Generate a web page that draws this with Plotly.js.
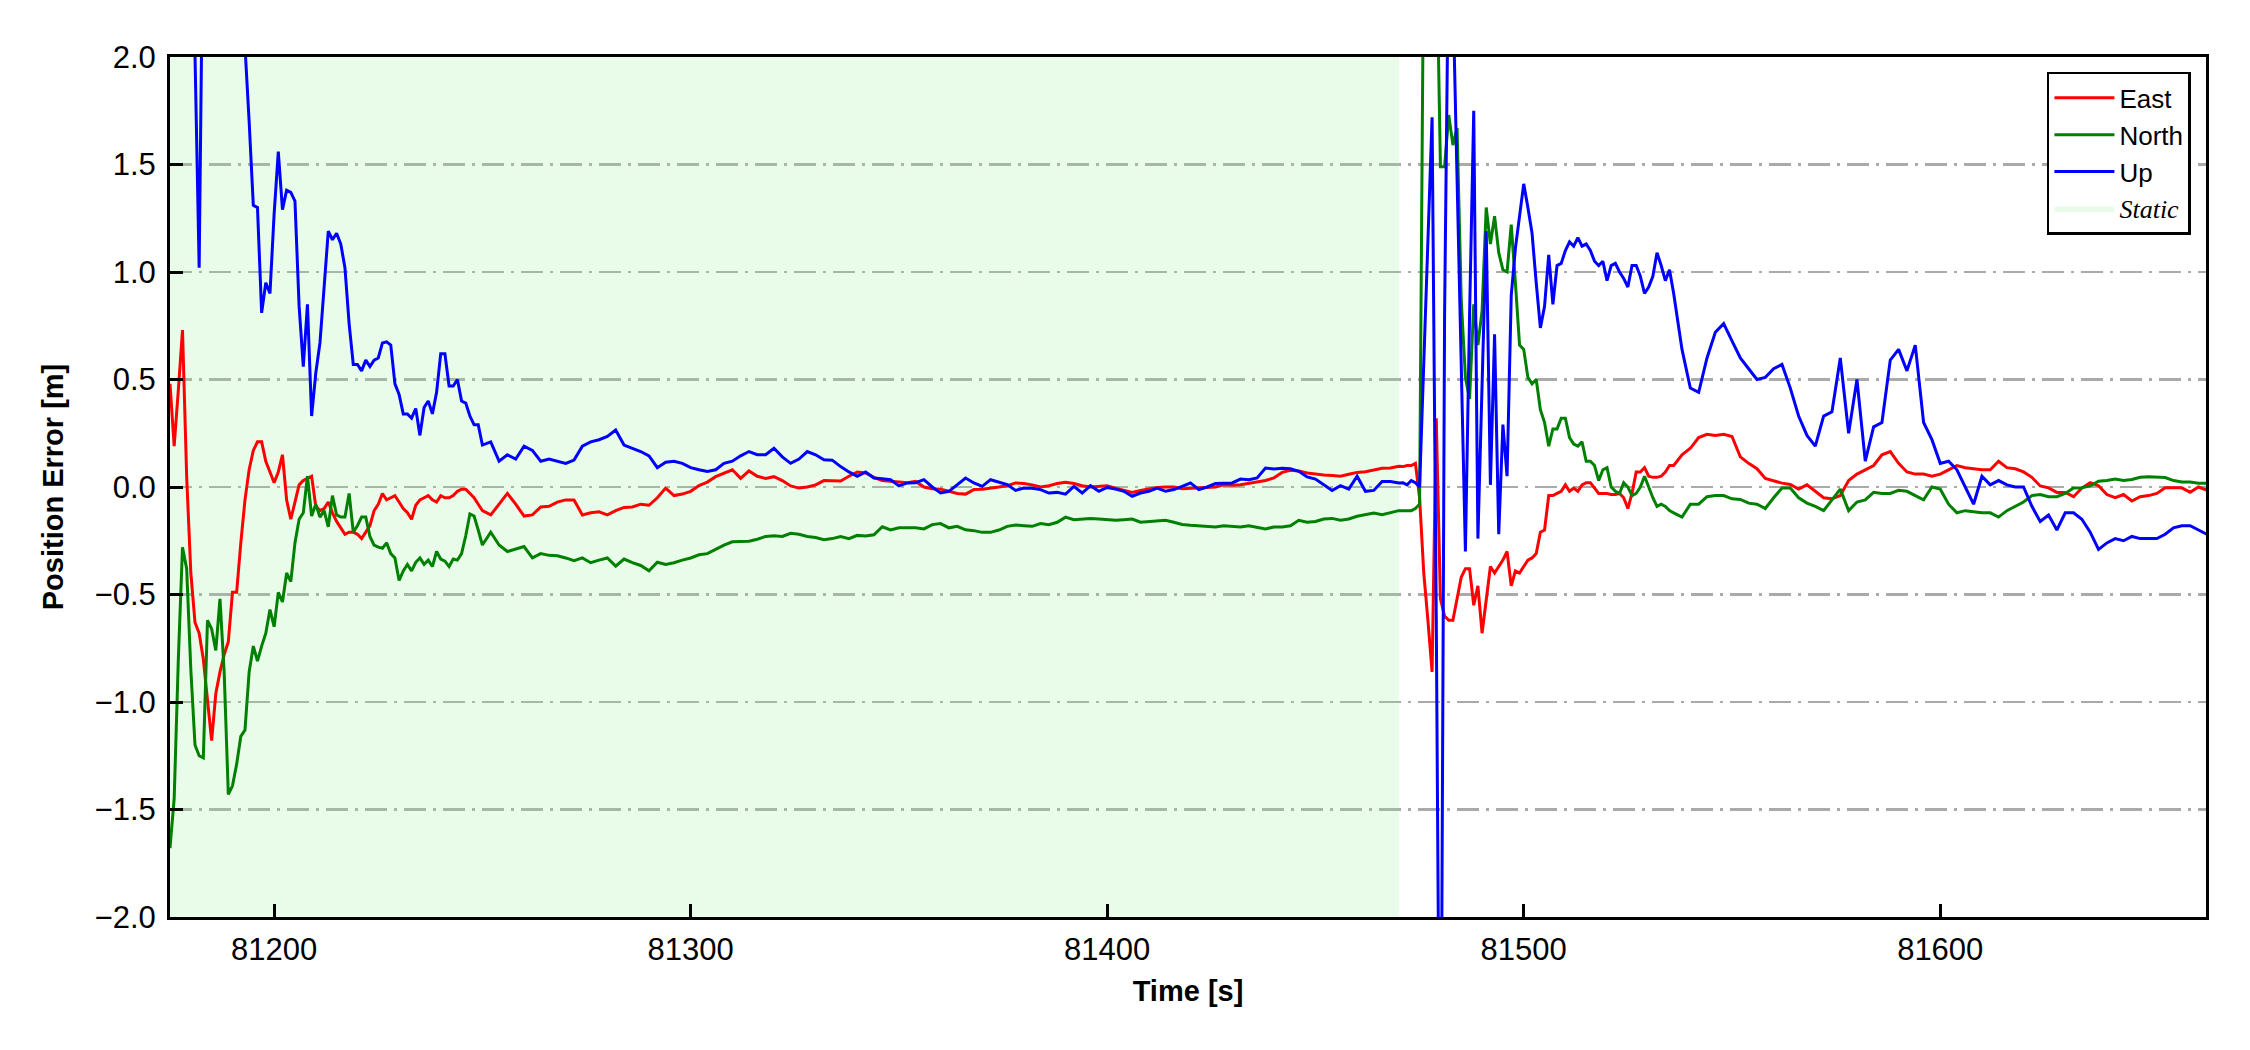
<!DOCTYPE html>
<html>
<head>
<meta charset="utf-8">
<script src="https://cdn.plot.ly/plotly-3.0.1.min.js"></script>
<style>html,body{margin:0;padding:0;background:#fff;}#chart{width:2250px;height:1050px;}</style>
</head>
<body>
<div id="chart"></div>
<script>
// Sampling grid: [start time, step (s), count]
const segments = [[81175, 1, 76], [81252, 2, 110], [81471, 1, 65], [81536, 2, 65]];

const eastError = [
  0.48, 0.19, 0.45, 0.73, 0.05, -0.40, -0.63, -0.68, -0.80, -1.0,
  -1.18, -0.96, -0.86, -0.78, -0.72, -0.49, -0.49, -0.26, -0.06, 0.08,
  0.17, 0.21, 0.21, 0.12, 0.07, 0.02, 0.07, 0.15, -0.06, -0.15,
  -0.07, 0.01, 0.03, 0.04, 0.05, -0.09, -0.11, -0.10, -0.07, -0.12,
  -0.16, -0.19, -0.22, -0.21, -0.21, -0.22, -0.24, -0.21, -0.18, -0.11,
  -0.08, -0.03, -0.06, -0.05, -0.04, -0.07, -0.10, -0.12, -0.15, -0.085,
  -0.06, -0.05, -0.04, -0.06, -0.07, -0.04, -0.05, -0.05, -0.04, -0.02,
  -0.01, -0.01, -0.03, -0.05, -0.08, -0.11,
  -0.13, -0.08, -0.03, -0.08, -0.135, -0.13, -0.093, -0.09, -0.07, -0.06,
  -0.06, -0.13, -0.12, -0.115, -0.13, -0.11, -0.095, -0.093, -0.08, -0.085,
  -0.05, -0.005, -0.04, -0.033, -0.02, 0.007, 0.023, 0.048, 0.065, 0.08,
  0.04, 0.075, 0.05, 0.04, 0.048, 0.03, 0.005, -0.005, 0.0, 0.01,
  0.03, 0.03, 0.028, 0.05, 0.07, 0.065, 0.045, 0.03, 0.026, 0.025,
  0.02, 0.026, 0.0,
  -0.008, -0.01, -0.02, -0.03, -0.033, -0.012, -0.01, -0.006, 0.0, 0.006,
  0.019, 0.016, 0.01, 0.0, 0.006, 0.016, 0.022, 0.016, 0.006, 0.0,
  0.003, 0.006, -0.005, -0.016, -0.025, -0.016, -0.01, -0.002, 0.0, 0.0,
  -0.008, -0.006, -0.005, -0.002, 0.0, 0.01, 0.008, 0.01, 0.016, 0.025,
  0.03, 0.042, 0.068, 0.078, 0.075, 0.065, 0.059, 0.056, 0.053, 0.05,
  0.059, 0.068, 0.071, 0.078, 0.087, 0.088, 0.096,
  0.095, 0.10, 0.10, 0.11, -0.05, -0.40, -0.62, -0.86, 0.32, -0.52,
  -0.60, -0.62, -0.62, -0.51, -0.42, -0.38, -0.38, -0.55, -0.46, -0.68,
  -0.51, -0.37, -0.40, -0.37, -0.34, -0.30, -0.46, -0.39, -0.40, -0.37,
  -0.34, -0.33, -0.31, -0.21, -0.20, -0.04, -0.04, -0.03, -0.02, 0.01,
  -0.02, -0.005, -0.02, 0.01, 0.02, 0.02, -0.005, -0.03, -0.03, -0.03,
  -0.035, -0.035, -0.03, -0.05, -0.10, -0.03, 0.07, 0.07, 0.09, 0.05,
  0.045, 0.045, 0.05, 0.07, 0.10,
  0.10, 0.15, 0.18, 0.23, 0.245, 0.24, 0.245, 0.235, 0.14, 0.11,
  0.085, 0.04, 0.03, 0.018, 0.012, -0.01, 0.01, -0.02, -0.05, -0.055,
  -0.04, 0.03, 0.06, 0.08, 0.10, 0.15, 0.165, 0.11, 0.07, 0.06,
  0.06, 0.05, 0.06, 0.08, 0.10, 0.09, 0.085, 0.08, 0.08, 0.12,
  0.09, 0.085, 0.07, 0.045, 0.005, -0.004, -0.025, -0.025, -0.045, -0.005,
  0.02, 0.006, -0.035, -0.05, -0.035, -0.065, -0.045, -0.04, -0.03, -0.004,
  -0.004, -0.004, -0.025, 0.0, -0.015
];

const northError = [
  -1.68, -1.45, -0.80, -0.28, -0.38, -0.85, -1.20, -1.25, -1.26, -0.62,
  -0.66, -0.76, -0.52, -0.86, -1.43, -1.39, -1.29, -1.16, -1.13, -0.86,
  -0.74, -0.81, -0.74, -0.68, -0.57, -0.65, -0.49, -0.535, -0.40, -0.44,
  -0.26, -0.15, -0.12, 0.05, -0.135, -0.08, -0.14, -0.11, -0.185, -0.04,
  -0.13, -0.14, -0.14, -0.03, -0.21, -0.18, -0.14, -0.14, -0.23, -0.27,
  -0.28, -0.285, -0.26, -0.31, -0.33, -0.435, -0.39, -0.36, -0.39, -0.35,
  -0.33, -0.36, -0.34, -0.37, -0.30, -0.335, -0.345, -0.37, -0.335, -0.34,
  -0.31, -0.227, -0.125, -0.135, -0.20, -0.27,
  -0.21, -0.27, -0.30, -0.29, -0.277, -0.33, -0.31, -0.318, -0.32, -0.33,
  -0.343, -0.33, -0.352, -0.34, -0.33, -0.368, -0.335, -0.352, -0.365, -0.39,
  -0.35, -0.36, -0.352, -0.34, -0.33, -0.315, -0.31, -0.29, -0.27, -0.255,
  -0.252, -0.252, -0.243, -0.23, -0.227, -0.23, -0.215, -0.22, -0.23, -0.235,
  -0.245, -0.24, -0.23, -0.24, -0.225, -0.228, -0.222, -0.185, -0.2, -0.19,
  -0.19, -0.19, -0.195,
  -0.175, -0.17, -0.19, -0.183, -0.199, -0.203, -0.211, -0.211, -0.2, -0.183,
  -0.177, -0.18, -0.183, -0.17, -0.175, -0.164, -0.14, -0.152, -0.149, -0.146,
  -0.149, -0.152, -0.155, -0.152, -0.149, -0.164, -0.16, -0.158, -0.155, -0.164,
  -0.174, -0.178, -0.18, -0.183, -0.186, -0.18, -0.183, -0.186, -0.18, -0.188,
  -0.195, -0.186, -0.186, -0.18, -0.155, -0.164, -0.16, -0.149, -0.146, -0.155,
  -0.149, -0.136, -0.129, -0.121, -0.129, -0.121, -0.11,
  -0.11, -0.11, -0.11, -0.10, -0.08, 2.6, 3.0, 3.0, 2.6, 1.49,
  1.49, 1.73, 1.59, 1.67, 0.87, 0.51, 0.41, 0.85, 0.66, 0.82,
  1.30, 1.13, 1.26, 1.09, 1.01, 1.0, 1.22, 0.95, 0.66, 0.64,
  0.51, 0.48, 0.50, 0.36, 0.30, 0.19, 0.27, 0.27, 0.32, 0.32,
  0.23, 0.20, 0.19, 0.21, 0.12, 0.12, 0.10, 0.03, 0.08, 0.09,
  0.0, -0.02, -0.03, 0.02, 0.0, -0.04, -0.03, 0.0, 0.05, 0.0,
  -0.05, -0.09, -0.08, -0.09, -0.11,
  -0.12, -0.14, -0.08, -0.08, -0.045, -0.04, -0.04, -0.055, -0.058, -0.075,
  -0.08, -0.10, -0.05, -0.005, -0.005, -0.05, -0.075, -0.09, -0.11, -0.06,
  -0.01, -0.11, -0.07, -0.06, -0.025, -0.03, -0.03, -0.015, -0.02, -0.04,
  -0.06, 0.0, -0.01, -0.08, -0.12, -0.11, -0.115, -0.12, -0.12, -0.14,
  -0.11, -0.09, -0.07, -0.04, -0.035, -0.045, -0.045, -0.03, -0.005, -0.003,
  0.005, 0.027, 0.03, 0.037, 0.03, 0.035, 0.045, 0.048, 0.045, 0.044,
  0.03, 0.023, 0.023, 0.017, 0.017
];

const upError = [
  3.5, 3.6, 3.4, 3.2, 3.0, 3.0, 2.0, 1.02, 2.8, 3.5,
  3.8, 3.8, 3.6, 3.3, 3.0, 2.8, 2.6, 2.5, 2.05, 1.70,
  1.31, 1.30, 0.81, 0.95, 0.90, 1.27, 1.56, 1.29, 1.38, 1.37,
  1.33, 0.84, 0.56, 0.85, 0.33, 0.53, 0.67, 0.93, 1.19, 1.15,
  1.18, 1.13, 1.02, 0.76, 0.57, 0.57, 0.54, 0.59, 0.56, 0.59,
  0.60, 0.67, 0.675, 0.66, 0.48, 0.43, 0.34, 0.34, 0.32, 0.365,
  0.24, 0.37, 0.40, 0.34, 0.44, 0.62, 0.62, 0.47, 0.47, 0.50,
  0.40, 0.39, 0.33, 0.29, 0.29, 0.195,
  0.21, 0.12, 0.15, 0.13, 0.19, 0.17, 0.12, 0.13, 0.12, 0.11,
  0.125, 0.19, 0.21, 0.22, 0.235, 0.265, 0.195, 0.18, 0.165, 0.145,
  0.09, 0.115, 0.12, 0.11, 0.09, 0.08, 0.072, 0.08, 0.11, 0.12,
  0.145, 0.165, 0.15, 0.15, 0.18, 0.14, 0.11, 0.13, 0.165, 0.15,
  0.127, 0.125, 0.095, 0.07, 0.05, 0.07, 0.042, 0.038, 0.034, 0.005,
  0.019, 0.02, 0.034,
  0.0, -0.028, -0.02, 0.011, 0.042, 0.019, 0.003, 0.034, 0.022, 0.011,
  -0.016, -0.005, -0.006, -0.012, -0.028, -0.025, -0.033, 0.003, -0.028, 0.006,
  -0.02, -0.002, -0.01, -0.02, -0.043, -0.028, -0.02, -0.005, -0.02, -0.012,
  0.003, 0.019, -0.012, 0.0, 0.016, 0.016, 0.019, 0.037, 0.034, 0.042,
  0.088, 0.084, 0.087, 0.085, 0.073, 0.047, 0.037, 0.011, -0.016, 0.006,
  -0.01, 0.05, -0.02, -0.016, 0.026, 0.026, 0.019,
  0.02, 0.01, 0.03, 0.02, 0.0, 0.6, 1.2, 1.72, -0.6, -3.5,
  0.8, 2.6, 2.3, 1.4, 0.5, -0.30, 0.8, 1.75, -0.24, 0.5,
  1.19, 0.01, 0.71, -0.22, 0.29, 0.05, 0.89, 1.11, 1.25, 1.41,
  1.3, 1.18, 0.95, 0.74, 0.84, 1.08, 0.85, 1.03, 1.04, 1.1,
  1.14, 1.12, 1.16, 1.12, 1.13, 1.10, 1.05, 1.03, 1.05, 0.96,
  1.03, 1.04, 1.0, 0.97, 0.93, 1.03, 1.03, 0.98, 0.9, 0.93,
  0.98, 1.09, 1.03, 0.96, 1.01,
  0.9, 0.64, 0.46, 0.44, 0.6, 0.72, 0.76, 0.68, 0.6, 0.55,
  0.5, 0.51, 0.55, 0.57, 0.46, 0.33, 0.24, 0.19, 0.33, 0.35,
  0.6, 0.25, 0.50, 0.12, 0.28, 0.30, 0.59, 0.64, 0.54, 0.66,
  0.30, 0.22, 0.11, 0.12, 0.08, 0.0, -0.08, 0.05, 0.01, 0.03,
  0.01, 0.0, 0.0, -0.09, -0.16, -0.13, -0.20, -0.12, -0.12, -0.15,
  -0.21, -0.29, -0.26, -0.24, -0.25, -0.23, -0.24, -0.24, -0.24, -0.22,
  -0.19, -0.18, -0.18, -0.20, -0.22
];

const staticPeriod = [81175, 81470.1];
const xRange = [81175, 81663.8];
const yRange = [-2, 2];
const xTickVals = [81200, 81300, 81400, 81500, 81600];
const yTickVals = [-2, -1.5, -1, -0.5, 0, 0.5, 1, 1.5, 2];
const seriesNames = ['East', 'North', 'Up'];
const seriesColors = ['#ff0000', '#008000', '#0000ff'];

const time = [];
segments.forEach(function (s) {
  for (let k = 0; k < s[2]; k++) time.push(s[0] + k * s[1]);
});

const FONT = 'Liberation Sans, Arial, Helvetica, sans-serif';

const traces = [];
traces.push({
  x: [staticPeriod[0], staticPeriod[1], staticPeriod[1], staticPeriod[0]],
  y: [yRange[0], yRange[0], yRange[1], yRange[1]],
  type: 'scatter', mode: 'lines', fill: 'toself',
  fillcolor: 'rgba(144,238,144,0.2)', line: {width: 0, color: 'rgba(144,238,144,0.2)'},
  name: '<span style="font-family:Liberation Serif,Times New Roman,serif"><i>Static</i></span>',
  legendrank: 4, hoverinfo: 'skip'
});
[eastError, northError, upError].forEach(function (vals, k) {
  traces.push({
    x: time, y: vals, type: 'scatter', mode: 'lines',
    line: {color: seriesColors[k], width: 3},
    name: seriesNames[k], legendrank: k + 1
  });
});

const layout = {
  width: 2250, height: 1050,
  margin: {l: 170, r: 44, t: 57, b: 133, pad: 0},
  paper_bgcolor: '#ffffff', plot_bgcolor: '#ffffff',
  font: {family: FONT, color: '#000000'},
  showlegend: true,
  legend: {
    x: 0.9926, y: 0.9826, xanchor: 'right', yanchor: 'top',
    bgcolor: '#ffffff', bordercolor: '#000000', borderwidth: 2.5,
    font: {family: FONT, size: 26, color: '#000000'},
    tracegroupgap: 0, itemwidth: 60
  },
  xaxis: {
    range: xRange, tickvals: xTickVals, tickformat: 'd',
    showline: true, linecolor: '#000000', linewidth: 3, mirror: true,
    ticks: 'inside', ticklen: 13, tickwidth: 3, tickcolor: '#000000',
    tickfont: {family: FONT, size: 31}, ticklabelstandoff: 3,
    showgrid: false, zeroline: false,
    title: {text: 'Time [s]', font: {family: FONT, size: 29, weight: 'bold'}, standoff: 15}
  },
  yaxis: {
    range: yRange, tickvals: yTickVals, tickformat: '.1f',
    showline: true, linecolor: '#000000', linewidth: 3, mirror: true,
    ticks: 'inside', ticklen: 13, tickwidth: 3, tickcolor: '#000000',
    tickfont: {family: FONT, size: 31}, ticklabelstandoff: 5,
    showgrid: true, gridcolor: '#aaaaaa', gridwidth: 2.3, griddash: '22px,7px,3px,7px',
    zeroline: false,
    title: {text: 'Position Error [m]', font: {family: FONT, size: 29, weight: 'bold'}, standoff: 23}
  }
};

Plotly.newPlot('chart', traces, layout, {staticPlot: true, displayModeBar: false});
</script>
</body>
</html>
